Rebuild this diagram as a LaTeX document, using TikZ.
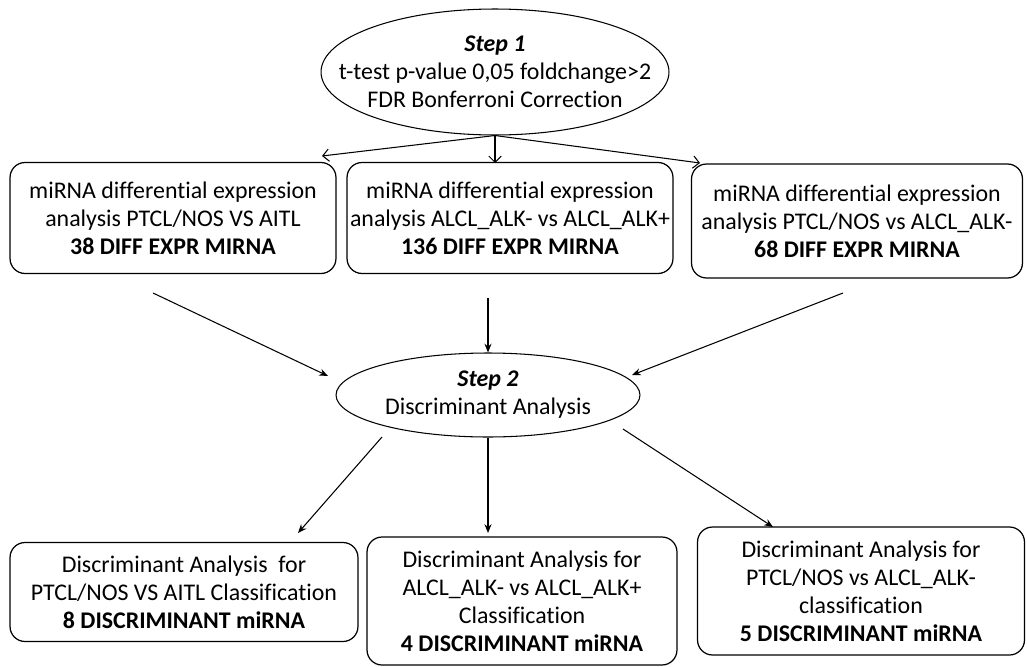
\documentclass[tikz,border=0pt]{standalone}
\usepackage{fontspec}
\setmainfont{Carlito}[Ligatures=NoCommon]
\usetikzlibrary{
    arrows.meta,
    shapes.geometric
}

\begin{document}
\begin{tikzpicture}[
    x=0.02cm, y=-0.02cm,
    stepnode/.style={
        draw,
        ellipse,
        inner sep=0pt,
        align=center,
        line width=0.6pt,
        font=\fontsize{13.6}{16}\selectfont
    },
    resbox/.style={
        draw,
        rounded corners=0.3cm,
        inner sep=0pt,
        align=center,
        line width=0.7pt,
        font=\fontsize{13.6}{16}\selectfont
    },
    arrow/.style={-{Stealth[length=5pt,width=4pt]},line width=0.6pt},
    openarrow/.style={-{Straight Barb[length=3.5pt,width=7pt]},line width=0.6pt}
]
\useasboundingbox (0,0) rectangle (1027,666);

\node[stepnode, inner xsep=-1.2cm, minimum width=6.96cm, minimum height=2.52cm] (step1) at (495,72)
{\textbf{\textit{Step 1}}\\ t-test p-value 0,05 foldchange>2\\ FDR Bonferroni Correction};

\node[resbox, minimum width=6.52cm, minimum height=2.22cm] (dea1) at (173,218)
{miRNA differential expression\\ analysis PTCL/NOS VS AITL\\ \textbf{38 DIFF EXPR MIRNA}};
\node[resbox, minimum width=6.52cm, minimum height=2.22cm] (dea2) at (510,218)
{miRNA differential expression\\ analysis ALCL\_ALK- vs ALCL\_ALK+\\ \textbf{136 DIFF EXPR MIRNA}};
\node[resbox, minimum width=6.62cm, minimum height=2.28cm] (dea3) at (857,221)
{miRNA differential expression\\ analysis PTCL/NOS vs ALCL\_ALK-\\ \textbf{68 DIFF EXPR MIRNA}};

\node[stepnode, minimum width=6.08cm, minimum height=1.68cm] (step2) at (488,395)
{\textbf{\textit{Step 2}}\\ Discriminant Analysis};

\node[resbox, minimum width=6.96cm, minimum height=1.98cm] (dis1) at (184,592)
{Discriminant Analysis~ for\\ PTCL/NOS VS AITL Classification\\ \textbf{8 DISCRIMINANT miRNA}};
\node[resbox, minimum width=6.2cm, minimum height=2.56cm] (dis2) at (522,601)
{Discriminant Analysis for\\ ALCL\_ALK- vs ALCL\_ALK+\\ Classification\\ \textbf{4 DISCRIMINANT miRNA}};
\node[resbox, minimum width=6.54cm, minimum height=2.56cm] (dis3) at (861,591)
{Discriminant Analysis for\\ PTCL/NOS vs ALCL\_ALK-\\ classification\\ \textbf{5 DISCRIMINANT miRNA}};

\coordinate (t1) at (322,156);
\coordinate (t2) at (495,163);
\coordinate (t3) at (700,163);

\coordinate (m1) at (153,293);
\coordinate (m2) at (488,298);
\coordinate (m3) at (843,293);
\coordinate (n1) at (328,376);
\coordinate (n3) at (632,375);

\coordinate (b1) at (382,437);
\coordinate (b3) at (623,429);
\coordinate (c1) at (298,533);
\coordinate (c2) at (488,533);
\coordinate (c3) at (773,527);

\draw[openarrow] (step1.south) -- (t1);
\draw[openarrow] (step1.south) -- (t2);
\draw[openarrow] (step1.south) -- (t3);

\draw[arrow] (m1) -- (n1);
\draw[arrow] (m2) -- (step2.north);
\draw[arrow] (m3) -- (n3);

\draw[arrow] (b1) -- (c1);
\draw[arrow] (step2.south) -- (c2);
\draw[arrow] (b3) -- (c3);

\end{tikzpicture}
\end{document}
